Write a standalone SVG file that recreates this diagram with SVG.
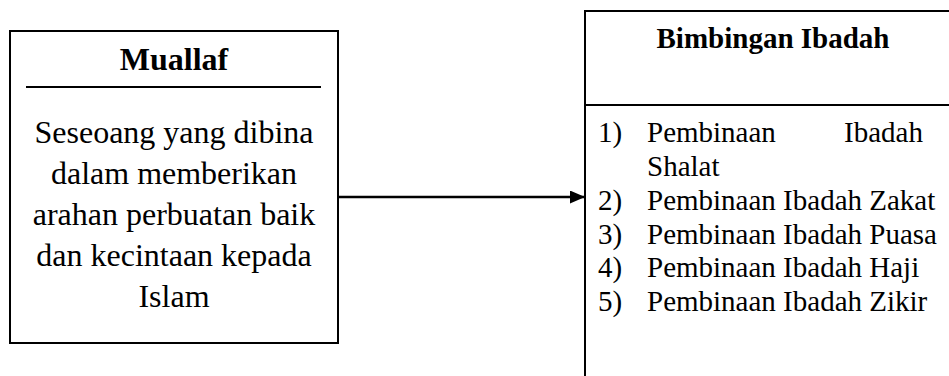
<svg xmlns="http://www.w3.org/2000/svg" width="949" height="376" viewBox="0 0 949 376">
<defs>
<style>
.box{fill:#fff;stroke:#000;stroke-width:2}
.sep{stroke:#000;stroke-width:2}
.t{font-family:"Liberation Serif","Times New Roman",serif;font-size:29px;fill:#000}
.l{font-size:32px}
.b{font-weight:bold}
.c{text-anchor:middle}
.edge{stroke:#000;stroke-width:2.5;fill:none}
</style>
<marker id="arr" markerWidth="15" markerHeight="13" refX="15" refY="6.5" orient="auto" markerUnits="userSpaceOnUse">
<path d="M0,0 L15,6.5 L0,13 Z" fill="#000"/>
</marker>
</defs>
<rect width="949" height="376" fill="#fff"/>
<g id="muallaf">
<rect class="box" x="10" y="31" width="328" height="312"/>
<line class="sep" x1="26" y1="87" x2="321" y2="87"/>
<text class="t l b c" x="174" y="70">Muallaf</text>
<text class="t l c" x="174" y="143">Seseoang yang dibina</text>
<text class="t l c" x="174" y="184">dalam memberikan</text>
<text class="t l c" x="174" y="225">arahan perbuatan baik</text>
<text class="t l c" x="174" y="266">dan kecintaan kepada</text>
<text class="t l c" x="174" y="307">Islam</text>
</g>
<g id="bimbingan">
<rect class="box" x="585" y="11" width="400" height="400"/>
<line class="sep" x1="585" y1="105" x2="949" y2="105"/>
<text class="t b c" x="773" y="48">Bimbingan Ibadah</text>
<text class="t" x="598" y="142">1)</text>
<text class="t" x="647" y="142">Pembinaan</text>
<text class="t" x="923" y="142" text-anchor="end">Ibadah</text>
<text class="t" x="647" y="176">Shalat</text>
<text class="t" x="598" y="210">2)</text>
<text class="t" x="647" y="210">Pembinaan Ibadah Zakat</text>
<text class="t" x="598" y="244">3)</text>
<text class="t" x="647" y="244">Pembinaan Ibadah Puasa</text>
<text class="t" x="598" y="277">4)</text>
<text class="t" x="647" y="277">Pembinaan Ibadah Haji</text>
<text class="t" x="598" y="311">5)</text>
<text class="t" x="647" y="311">Pembinaan Ibadah Zikir</text>
</g>
<g id="connectors">
<line class="edge" x1="338" y1="197" x2="585" y2="197" marker-end="url(#arr)"/>
</g>
</svg>
